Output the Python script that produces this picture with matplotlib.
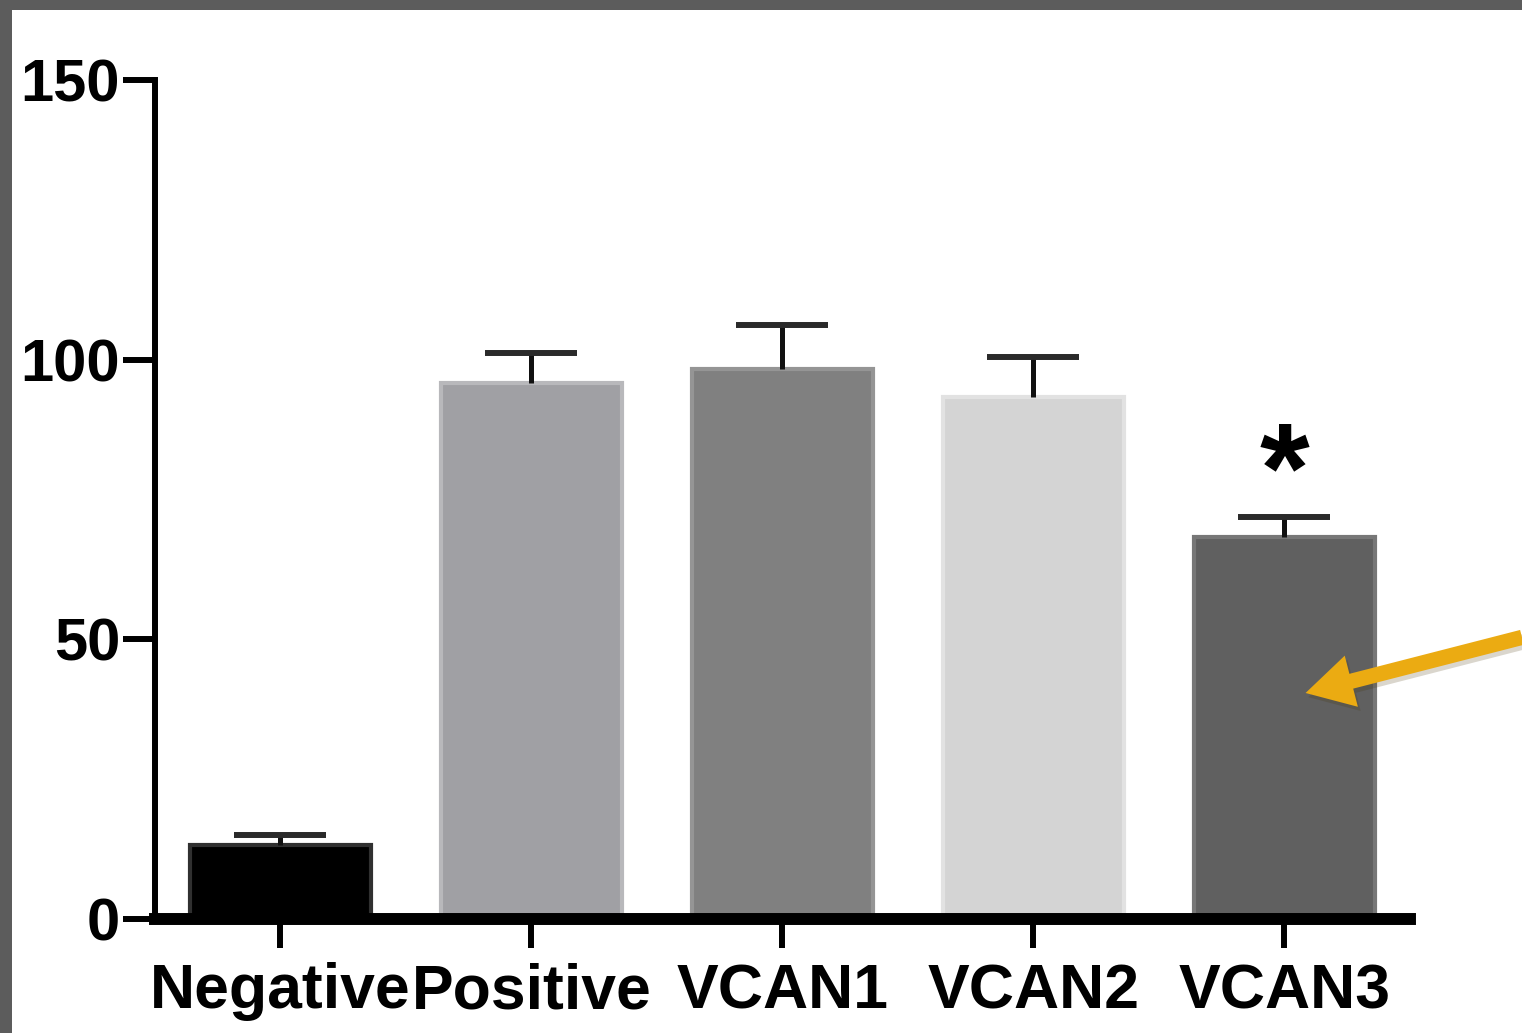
import numpy as np
import matplotlib.pyplot as plt
import matplotlib.patheffects as pe
from matplotlib.patches import Rectangle

plt.rcParams['font.family'] = ['Liberation Sans', 'DejaVu Sans']

groups = ["Negative", "Positive", "VCAN1", "VCAN2", "VCAN3"]
means = [13.2, 95.8, 98.3, 93.3, 68.3]
sem = [1.8, 5.4, 7.9, 7.2, 3.6]
colors = ["#000000", "#a0a0a4", "#808080", "#d4d4d4", "#606060"]
edges = ["#303030", "#b8b8bb", "#959595", "#e2e2e2", "#777777"]
yticks = [0, 50, 100, 150]

fig = plt.figure(figsize=(15.22, 10.33), dpi=100, facecolor="#5c5c5c")
# white canvas inside the dark frame
fig.add_artist(Rectangle((12 / 1522, 0), 1, (1033 - 10) / 1033,
                         transform=fig.transFigure, facecolor="white",
                         edgecolor="none", zorder=-5))

ax = fig.add_axes([0.1018, 0.1104, 0.8246, 0.8122])
ax.set_facecolor("none")

x = np.arange(len(groups))
means = np.array(means)
sem = np.array(sem)
ax.bar(x, means, width=0.72, color=colors, edgecolor=edges, linewidth=3, zorder=2)
# upper-only error bars: stem + top cap
ax.errorbar(x, means, yerr=[np.zeros(len(sem)), sem], fmt="none",
            ecolor="#111111", elinewidth=3.6, capsize=0, zorder=3)
ax.plot(x, means + sem, linestyle="none", marker="_", markersize=66,
        markeredgewidth=4.3, color="#2a2a2a", zorder=3)

ax.set_xlim(-0.5, 4.5)
ax.set_ylim(0, 150)
ax.set_yticks(yticks)
ax.set_xticks(x)
ax.set_xticklabels(groups)

for s in ["top", "right"]:
    ax.spines[s].set_visible(False)
ax.spines["left"].set_linewidth(4.3)
ax.spines["bottom"].set_linewidth(8.6)
ax.tick_params(axis="y", length=23, width=4.3, labelsize=43, pad=2)
ax.tick_params(axis="x", length=21, width=4.3, labelsize=45, pad=10)
for lab in ax.get_xticklabels() + ax.get_yticklabels():
    lab.set_fontweight("bold")

# significance mark
ax.text(4, 68, "*", ha="center", va="bottom", fontsize=92, fontweight="bold")

# orange arrow pointing at VCAN3
ax.annotate("", xy=(4.084, 40.4), xytext=(1.0, 0.383),
            textcoords="figure fraction", xycoords="data",
            arrowprops=dict(facecolor="#ebab12", edgecolor="none",
                            width=11, headwidth=38, headlength=34,
                            path_effects=[pe.SimplePatchShadow(offset=(2, -3), alpha=0.2),
                                          pe.Normal()]),
            annotation_clip=False, zorder=5)

fig.savefig("out.png", dpi=100, facecolor=fig.get_facecolor())
